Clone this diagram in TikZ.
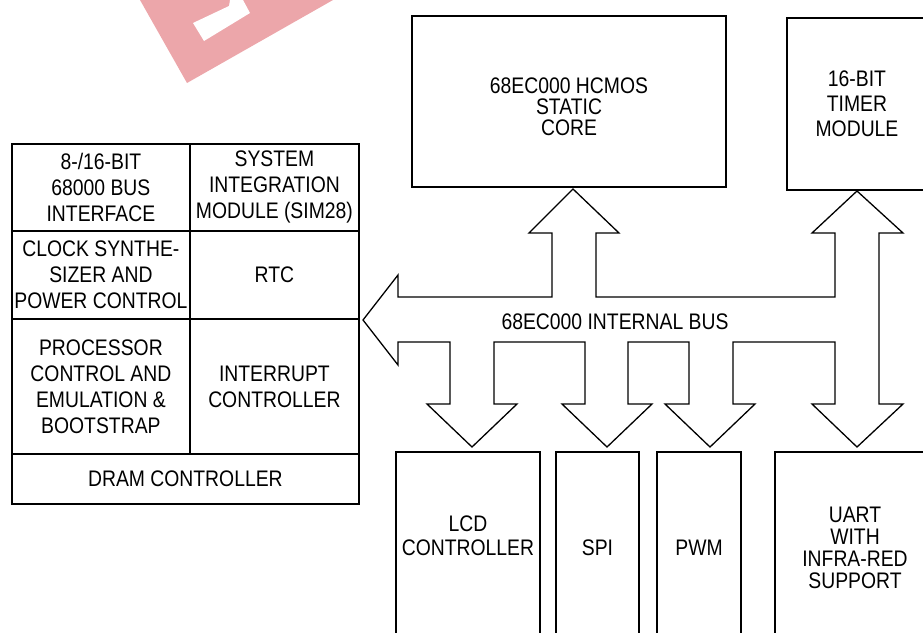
\documentclass[tikz,border=0pt]{standalone}
\usepackage{fontspec}
\setmainfont{Liberation Sans}[FakeStretch=0.86]
\definecolor{stamp}{RGB}{236,166,170}
\begin{document}
\begin{tikzpicture}[x=1pt,y=-1pt,
    blk/.style={draw, line width=1.8pt, align=center, inner sep=0pt},
    cell/.style={blk, anchor=north west},
    bus/.style={draw, line width=1.3pt, line join=miter}]
  \useasboundingbox (0,0) rectangle (923,632);
  \clip (0,0) rectangle (923,632);

  % Watermark fragment in the top left corner
  \fill [stamp] (140,0) -- (187,83) -- (333,0) -- cycle;
  \fill [white] (193,23) -- (204,41) -- (250,13) -- (243,0) -- (230,0) -- (229,6) -- cycle;

  \begin{scope}[font=\fontsize{22.5}{26}\selectfont]
  % Left block:
  % Cells are placed by their top left corners, they share their borders
  \node [cell, minimum width=178, minimum height=87]  (busif) at (11,143)  {8-/16-BIT\\68000 BUS\\INTERFACE};
  \node [cell, minimum width=169, minimum height=87]  (sim)   at (189,143) {SYSTEM\\INTEGRATION\\MODULE (SIM28)};
  \node [cell, minimum width=178, minimum height=88]  (clk)   at (11,230)  {CLOCK SYNTHE-\\SIZER AND\\POWER CONTROL};
  \node [cell, minimum width=169, minimum height=88]  (rtc)   at (189,230) {RTC};
  \node [cell, minimum width=178, minimum height=135] (proc)  at (11,318)  {PROCESSOR\\CONTROL AND\\EMULATION \&\\BOOTSTRAP};
  \node [cell, minimum width=169, minimum height=135] (irq)   at (189,318) {INTERRUPT\\CONTROLLER};
  \node [cell, minimum width=347, minimum height=50]  (dram)  at (11,453)  {DRAM CONTROLLER};

  % Top modules
  \node [blk, minimum width=314, minimum height=171] (core) at (569,101.5) {};
  \node [font=\fontsize{22.5}{21}\selectfont, align=center] (coretxt) at ([yshift=-5pt]core.center) {68EC000 HCMOS\\STATIC\\CORE};
  \node [blk, minimum width=140, minimum height=172, font=\fontsize{22.5}{25}\selectfont] (timer) at (857,104) {16-BIT\\TIMER\\MODULE};

  % Bottom modules (they run off the lower edge)
  \node [blk, minimum width=144, minimum height=191] (lcd)  at (468,547.5) {};
  \node [font=\fontsize{22.5}{24}\selectfont, align=center] (lcdtxt) at ([yshift=12pt]lcd.center) {LCD\\CONTROLLER};
  \node [blk, minimum width=83,  minimum height=191] (spi)  at (597.5,547.5) {SPI};
  \node [blk, minimum width=84,  minimum height=191] (pwm)  at (699,547.5) {PWM};
  \node [blk, minimum width=160, minimum height=191, font=\fontsize{22.5}{22}\selectfont] (uart) at (855,547.5) {UART\\WITH\\INFRA-RED\\SUPPORT};

  % Internal bus: one outline with all its arrow heads
  \path [bus] (363,320) -- (398,275) -- (398,297)
    -- (552,297) -- (552,233) -- (529,233) -- (573,189) -- (619,233) -- (596,233) -- (596,297)   % to core
    -- (835,297) -- (835,233) -- (812,233) -- (857,191) -- (903,233) -- (879,233)               % to timer
    -- (879,404) -- (903,404) -- (857,447) -- (812,404) -- (835,404) -- (835,342)               % to uart
    -- (733,342) -- (733,404) -- (755,404) -- (710,447) -- (665,404) -- (689,404) -- (689,342)  % to pwm
    -- (628,342) -- (628,404) -- (652,404) -- (607,447) -- (562,404) -- (585,404) -- (585,342)  % to spi
    -- (494,342) -- (494,404) -- (517,404) -- (472,447) -- (427,404) -- (450,404) -- (450,342)  % to lcd
    -- (398,342) -- (398,365) -- cycle;
  \node (buslabel) at (615,322) {68EC000 INTERNAL BUS};
  \end{scope}
\end{tikzpicture}
\end{document}
